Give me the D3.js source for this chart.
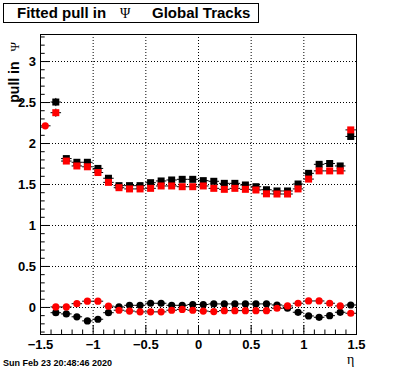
<!DOCTYPE html>
<html>
<head>
<meta charset="utf-8">
<script src="https://cdn.jsdelivr.net/npm/d3@7"></script>
<style>
  body { margin: 0; background: #fff; }
  svg { display: block; }
  .lbl { font-family: "Liberation Sans", Arial, sans-serif; font-weight: bold; }
  .greek { font-family: "Liberation Serif", "DejaVu Serif", serif; font-weight: normal; }
</style>
</head>
<body>
<div id="chart"></div>
<script>
// eta bin centres
var etaBins = [-1.45, -1.35, -1.25, -1.15, -1.05, -0.95, -0.85, -0.75, -0.65, -0.55,
               -0.45, -0.35, -0.25, -0.15, -0.05, 0.05, 0.15, 0.25, 0.35, 0.45,
               0.55, 0.65, 0.75, 0.85, 0.95, 1.05, 1.15, 1.25, 1.35, 1.45];
var binHalf = 0.05;

// pull widths (squares) and means (circles)
var blackSquares = [null, 2.50, 1.81, 1.765, 1.765, 1.69, 1.57, 1.48, 1.48, 1.48,
                    1.516, 1.537, 1.549, 1.557, 1.557, 1.541, 1.533, 1.508, 1.508, 1.488,
                    1.467, 1.43, 1.415, 1.415, 1.50, 1.63, 1.74, 1.75, 1.72, 2.08];
var redSquares = [null, 2.37, 1.78, 1.72, 1.71, 1.64, 1.52, 1.455, 1.44, 1.44,
                  1.447, 1.476, 1.476, 1.467, 1.467, 1.476, 1.447, 1.435, 1.447, 1.435,
                  1.427, 1.38, 1.378, 1.378, 1.44, 1.56, 1.66, 1.66, 1.66, 2.16];
var blackCircles = [null, -0.07, -0.085, -0.12, -0.17, -0.15, -0.07, 0.00, 0.02, 0.02,
                    0.045, 0.045, 0.02, 0.02, 0.03, 0.03, 0.037, 0.037, 0.037, 0.037,
                    0.037, 0.037, 0.024, -0.016, -0.065, -0.11, -0.126, -0.106, -0.065, 0.024];
var redCircles = [2.21, 0.00, 0.00, 0.04, 0.07, 0.07, 0.01, -0.04, -0.05, -0.06,
                  -0.06, -0.06, -0.04, -0.03, -0.04, -0.05, -0.057, -0.045, -0.045, -0.045,
                  -0.045, -0.045, -0.016, 0.012, 0.045, 0.073, 0.073, 0.045, 0.012, -0.077];
// vertical errors (mostly hidden under the markers)
var squareErr = [0.02, 0.05, 0.02, 0.02, 0.02, 0.02, 0.02, 0.02, 0.02, 0.02,
                 0.02, 0.02, 0.02, 0.02, 0.02, 0.02, 0.02, 0.02, 0.02, 0.02,
                 0.02, 0.02, 0.02, 0.02, 0.02, 0.02, 0.02, 0.02, 0.02, 0.03];
var circleErr = [0.02, 0.02, 0.02, 0.02, 0.02, 0.02, 0.02, 0.02, 0.02, 0.02,
                 0.02, 0.02, 0.02, 0.02, 0.02, 0.02, 0.02, 0.02, 0.02, 0.02,
                 0.02, 0.02, 0.02, 0.02, 0.02, 0.02, 0.02, 0.02, 0.02, 0.02];

var xTicks = [-1.5, -1, -0.5, 0, 0.5, 1, 1.5];
var yTicks = [0, 0.5, 1, 1.5, 2, 2.5, 3];
var xMinor = [-1.4, -1.3, -1.2, -1.1, -0.9, -0.8, -0.7, -0.6, -0.4, -0.3, -0.2, -0.1,
              0.1, 0.2, 0.3, 0.4, 0.6, 0.7, 0.8, 0.9, 1.1, 1.2, 1.3, 1.4];
var yMinor = [-0.3, -0.2, -0.1, 0.1, 0.2, 0.3, 0.4, 0.6, 0.7, 0.8, 0.9, 1.1, 1.2, 1.3, 1.4,
              1.6, 1.7, 1.8, 1.9, 2.1, 2.2, 2.3, 2.4, 2.6, 2.7, 2.8, 2.9, 3.1, 3.2, 3.3];

var W = 396, H = 372;
var frame = {left: 40, right: 356, top: 34, bottom: 334};

var svg = d3.select("#chart").append("svg")
    .attr("width", W)
    .attr("height", H);

var x = d3.scaleLinear().domain([-1.5, 1.5]).range([frame.left, frame.right]);
var y = d3.scaleLinear().domain([-0.33, 3.33]).range([frame.bottom, frame.top]);

// grid
var grid = svg.append("g").attr("stroke", "#000").attr("stroke-dasharray", "1,2");
grid.selectAll("line.gx")
    .data(xTicks.slice(1, -1))
    .enter().append("line")
    .attr("x1", function(d) { return x(d) + 0.5; })
    .attr("x2", function(d) { return x(d) + 0.5; })
    .attr("y1", frame.top)
    .attr("y2", frame.bottom);
grid.selectAll("line.gy")
    .data(yTicks)
    .enter().append("line")
    .attr("y1", function(d) { return Math.round(y(d)) + 0.5; })
    .attr("y2", function(d) { return Math.round(y(d)) + 0.5; })
    .attr("x1", frame.left)
    .attr("x2", frame.right);

// axes (ticks drawn inside the frame, ROOT style)
var fmt = function(d) { return d3.format("")(d).replace("-", "\u2212"); };

svg.append("g")
    .attr("transform", "translate(0," + frame.bottom + ")")
    .call(d3.axisBottom(x).tickValues(xTicks).tickSize(-9).tickPadding(6).tickFormat(fmt));
svg.append("g")
    .attr("transform", "translate(0," + frame.bottom + ")")
    .call(d3.axisBottom(x).tickValues(xMinor).tickSize(-4.5).tickFormat(""));

svg.append("g")
    .attr("transform", "translate(" + frame.left + ",0)")
    .call(d3.axisLeft(y).tickValues(yTicks).tickSize(-9.5).tickPadding(4).tickFormat(fmt));
svg.append("g")
    .attr("transform", "translate(" + frame.left + ",0)")
    .call(d3.axisLeft(y).tickValues(yMinor).tickSize(-4.7).tickFormat(""));

svg.selectAll(".domain").remove();
svg.selectAll(".tick line").attr("stroke", "#000");
svg.selectAll(".tick text")
    .attr("class", "lbl")
    .attr("fill", "#000")
    .style("font-size", "13px");

// frame
svg.append("rect")
    .attr("x", frame.left + 0.5)
    .attr("y", frame.top + 0.5)
    .attr("width", frame.right - frame.left)
    .attr("height", frame.bottom - frame.top)
    .attr("fill", "none")
    .attr("stroke", "#000");

// data
var plot = svg.append("g");

function addSeries(values, errs, color, shape) {
    var pts = etaBins.map(function(e, i) {
        return {eta: e, v: values[i], err: errs[i]};
    }).filter(function(d) { return d.v !== null; });

    var g = plot.append("g");
    g.selectAll("line.h")
        .data(pts)
        .enter().append("line")
        .attr("x1", function(d) { return x(d.eta - binHalf); })
        .attr("x2", function(d) { return x(d.eta + binHalf); })
        .attr("y1", function(d) { return y(d.v); })
        .attr("y2", function(d) { return y(d.v); })
        .attr("stroke", "#000");
    g.selectAll("line.v")
        .data(pts)
        .enter().append("line")
        .attr("x1", function(d) { return x(d.eta); })
        .attr("x2", function(d) { return x(d.eta); })
        .attr("y1", function(d) { return y(d.v - d.err); })
        .attr("y2", function(d) { return y(d.v + d.err); })
        .attr("stroke", "#000");

    if (shape === "square") {
        g.selectAll("rect")
            .data(pts)
            .enter().append("rect")
            .attr("x", function(d) { return x(d.eta) - 3.5; })
            .attr("y", function(d) { return y(d.v) - 3.5; })
            .attr("width", 7)
            .attr("height", 7)
            .attr("fill", color);
    } else {
        g.selectAll("circle")
            .data(pts)
            .enter().append("circle")
            .attr("cx", function(d) { return x(d.eta); })
            .attr("cy", function(d) { return y(d.v); })
            .attr("r", 3.6)
            .attr("fill", color);
    }
}

addSeries(blackSquares, squareErr, "#000", "square");
addSeries(redSquares, squareErr, "#ff0000", "square");
addSeries(blackCircles, circleErr, "#000", "circle");
addSeries(redCircles, circleErr, "#ff0000", "circle");

// title box
svg.append("rect")
    .attr("x", 3.5).attr("y", 3.5)
    .attr("width", 255).attr("height", 19)
    .attr("fill", "#fff").attr("stroke", "#000");
var title = svg.append("text").attr("class", "lbl").attr("y", 18).style("font-size", "15px");
title.append("tspan").attr("x", 17).text("Fitted pull in");
title.append("tspan").attr("class", "greek").attr("x", 120).style("font-size", "14px").text("\u03A8");
title.append("tspan").attr("x", 152).text("Global Tracks");

// axis titles
var yt = svg.append("text")
    .attr("class", "lbl")
    .attr("transform", "translate(19,42) rotate(-90)")
    .attr("text-anchor", "end")
    .style("font-size", "14px");
yt.append("tspan").text("pull in ");
yt.append("tspan").attr("class", "greek").attr("dx", 6).style("font-size", "13px").text("\u03A8");

svg.append("text")
    .attr("class", "greek")
    .attr("x", 347).attr("y", 364)
    .style("font-size", "14px")
    .text("\u03B7");

// date stamp
svg.append("text")
    .attr("class", "lbl")
    .attr("x", 3).attr("y", 366)
    .style("font-size", "9px")
    .text("Sun Feb 23 20:48:46 2020");
</script>
</body>
</html>
